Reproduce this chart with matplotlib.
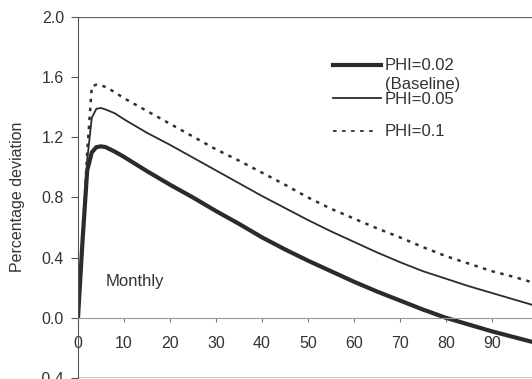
import matplotlib
matplotlib.use("Agg")
import matplotlib.pyplot as plt
from matplotlib.lines import Line2D

plt.rcParams['font.family'] = ['Liberation Sans', 'DejaVu Sans']

# months after the shock
months = [0, 1, 2, 3, 4, 5, 6, 8, 10, 15, 20, 25, 30, 35, 40, 45, 50,
          55, 60, 65, 70, 75, 80, 85, 90, 95, 100]

# PHI=0.02 (baseline)
phi_002 = [0, 0.52, 0.98, 1.10, 1.135, 1.14, 1.135, 1.105, 1.07, 0.975,
           0.885, 0.80, 0.71, 0.625, 0.535, 0.455, 0.38, 0.31, 0.24,
           0.175, 0.115, 0.055, 0.0, -0.045, -0.09, -0.13, -0.17]
# PHI=0.05
phi_005 = [0, 0.52, 1.05, 1.33, 1.39, 1.395, 1.385, 1.36, 1.32, 1.23,
           1.15, 1.065, 0.98, 0.895, 0.81, 0.73, 0.65, 0.575, 0.505,
           0.435, 0.37, 0.31, 0.26, 0.21, 0.165, 0.12, 0.075]
# PHI=0.1
phi_01 = [0, 0.52, 1.10, 1.54, 1.55, 1.545, 1.535, 1.50, 1.46, 1.375,
          1.29, 1.205, 1.12, 1.045, 0.965, 0.885, 0.80, 0.725, 0.66,
          0.595, 0.535, 0.47, 0.41, 0.36, 0.31, 0.27, 0.225]

x_ticks = [0, 10, 20, 30, 40, 50, 60, 70, 80, 90]
y_ticks = [-0.4, 0.0, 0.4, 0.8, 1.2, 1.6, 2.0]

W, H = 532, 379
fig = plt.figure(figsize=(W / 100, H / 100), dpi=100)
ax = fig.add_axes([78 / W, 1 / H, 1 - 78 / W, 361 / H])

line_col = '#2b2b2b'
text_col = '#333333'

ax.plot(months, phi_002, color=line_col, lw=3.0, solid_capstyle='butt')
ax.plot(months, phi_005, color=line_col, lw=1.3)
ax.plot(months, phi_01, color='#303030', lw=1.8, linestyle=(0, (1.4, 2.2)))

ax.set_xlim(0, 98.7)
ax.set_ylim(-0.4, 2.0)

# frame lines like the original chart
ax.spines['right'].set_visible(False)
ax.spines['top'].set_visible(False)
ax.spines['bottom'].set_position(('data', 0))
ax.spines['bottom'].set_color('#999999')
ax.spines['left'].set_color('#555555')
ax.axhline(2.0, color='#666666', lw=0.9)
ax.axhline(-0.4, color='#bbbbbb', lw=1.2)

ax.set_xticks(x_ticks)
ax.set_xticklabels([str(v) for v in x_ticks])
ax.set_yticks(y_ticks)
ax.set_yticklabels([f'{v:.1f}' for v in y_ticks])
ax.tick_params(axis='x', direction='out', length=3, pad=10, colors='#777777',
               labelcolor=text_col, labelsize=11.5)
ax.tick_params(axis='y', direction='out', length=5, pad=5, colors='#555555',
               labelcolor=text_col, labelsize=11.5)

fig.text(18 / W, 1 - 197 / H, 'Percentage deviation', rotation=90,
         ha='center', va='center', fontsize=11.5, color=text_col)

ax.text(5.9, 0.24, 'Monthly', ha='left', va='center', fontsize=12,
        color=text_col)

# legend drawn by hand to mimic the original layout
def fx(px):
    return px / W

def fy(py):
    return 1 - py / H

fig.add_artist(Line2D([fx(333), fx(381)], [fy(65), fy(65)], color=line_col,
                      lw=3.0, transform=fig.transFigure))
fig.add_artist(Line2D([fx(333), fx(381)], [fy(98), fy(98)], color=line_col,
                      lw=1.3, transform=fig.transFigure))
fig.add_artist(Line2D([fx(333), fx(378)], [fy(131), fy(131)], color='#303030',
                      lw=1.3, linestyle=(0, (2, 3)), transform=fig.transFigure))
fig.text(fx(385), fy(66), 'PHI=0.02', va='center', fontsize=12, color=text_col)
fig.text(fx(385), fy(85), '(Baseline)', va='center', fontsize=12, color=text_col)
fig.text(fx(385), fy(100), 'PHI=0.05', va='center', fontsize=12, color=text_col)
fig.text(fx(385), fy(131), 'PHI=0.1', va='center', fontsize=12, color=text_col)

fig.savefig('out.png', dpi=100)
